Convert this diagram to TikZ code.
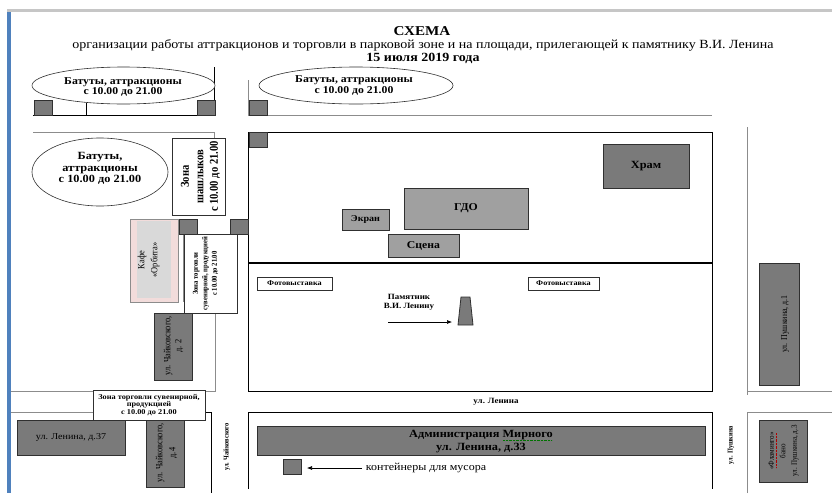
\documentclass[tikz,border=0pt]{standalone}
\usepackage{fontspec}
\setmainfont[FakeStretch=1.12]{Liberation Serif}
\newfontfamily\rotf[FakeStretch=.88]{Liberation Serif}
\usetikzlibrary{arrows.meta}
\definecolor{dk}{HTML}{7A7A7A}
\definecolor{md}{HTML}{A0A0A0}
\definecolor{wall}{HTML}{8C8C8C}
\definecolor{edge}{HTML}{303030}
\definecolor{pinkf}{HTML}{F2DCDB}
\definecolor{inner}{HTML}{D9D9D9}
\definecolor{stripe}{HTML}{4F81BD}
\newcommand{\fs}[2]{\fontsize{#1}{#2}\selectfont}
\tikzset{
 x=1pt,y=-1pt,
 box/.style={draw=edge,line width=.8pt,fill=white,inner sep=0pt,align=center},
 bin/.style={box,fill=dk},
 house/.style={box,fill=dk},
 hall/.style={box,fill=md},
 txt/.style={inner sep=0pt,align=center},
 rtxt/.style={txt,rotate=90},
 road/.style={line width=.8pt,draw=black},
 groad/.style={line width=1pt,draw=wall},
 arr/.style={line width=.6pt,-{Latex[length=5pt,width=4pt]}},
}
% \bx[style]{name}{x1}{y1}{x2}{y2}{text}
\newcommand{\bx}[7][box]{\node[#1,minimum width={#5-#3},minimum height={#6-#4}] (#2) at ({(#3+#5)/2},{(#4+#6)/2}) {#7};}
\newcommand{\ov}[4]{\draw[draw=edge,line width=.6pt,fill=white] ({(#1+#3)/2},{(#2+#4)/2}) ellipse [x radius={(#3-#1)/2},y radius={(#4-#2)/2}];}
\begin{document}
\begin{tikzpicture}
\useasboundingbox (0,0) rectangle (832,493);
\fill[white] (0,0) rectangle (832,493);
% page edge
\fill[gray!45] (7,9) rectangle (832,12);
\fill[stripe] (7,12) rectangle (11,493);
% title
\node[txt,font=\fs{13.5}{15}\bfseries] (t1) at (422,31) {СХЕМА};
\node[txt,font=\fs{12.5}{14}] (t2) at (423,45) {организации работы аттракционов и торговли в парковой зоне и на площади, прилегающей к памятнику В.И. Ленина};
\node[txt,font=\fs{12.5}{14}\bfseries] (t3) at (423,58) {15 июля 2019 года};
% roads
\draw[road] (214,67) -- (214,115) -- (33,115);
\draw[road,line width=1pt] (86,103) -- (86,115);
\draw[road,draw=wall] (248,80) -- (248,115) -- (712,115);
\draw[groad] (33,132) -- (214,132) -- (214,138);
\draw[road] (248,132) -- (712,132) -- (712,391) -- (248,391) -- cycle;
\draw[road,line width=1.3pt] (248,263) -- (712,263);
\draw[groad] (183,234) -- (183,302);
\draw[groad] (215,313) -- (215,391) -- (11,391);
\draw[groad] (11,412) -- (93,412);
\draw[road] (205,412) -- (211,412) -- (211,493);
\draw[road] (248,489) -- (248,412) -- (712,412) -- (712,489);
\draw[groad] (747,127) -- (747,395);
\draw[groad] (747,391) -- (832,391);
\draw[groad] (747,493) -- (747,412) -- (832,412);
% ellipses
\ov{32}{67}{215}{104}
\node[txt,font=\fs{10.5}{10.5}\bfseries] (e1) at (123,87) {Батуты, аттракционы\\с 10.00 до 21.00};
\ov{259}{67}{453}{104}
\node[txt,font=\fs{10.5}{10.5}\bfseries] (e2) at (354,85.5) {Батуты, аттракционы\\с 10.00 до 21.00};
\ov{32}{138}{168}{206}
\node[txt,font=\fs{11}{11.5}\bfseries] (e3) at (100,168.5) {Батуты,\\аттракционы\\с 10.00 до 21.00};
% bins
\bx[bin]{b1}{34}{100}{52}{115}{}
\bx[bin]{b2}{197}{100}{215}{115}{}
\bx[bin]{b3}{249}{100}{267}{115}{}
\bx[bin]{b4}{249}{132}{267}{147}{}
\bx[bin]{b5}{179}{219}{197}{234}{}
\bx[bin]{b6}{230}{219}{248}{234}{}
\bx[bin]{b7}{283}{459}{301}{474}{}
% left zone boxes
\bx{z1}{172}{138}{225}{215}{}
\node[rtxt,font=\rotf\fs{12}{14.5}\bfseries] (z1t) at (200.5,176.5) {Зона\\шашлыков\\с 10.00 до 21.00};
\node[draw=wall,line width=1pt,fill=pinkf,minimum width=48pt,minimum height=83pt,inner sep=0pt] (cafe) at (154,260.5) {};
\node[fill=inner,minimum width=34pt,minimum height=77pt,inner sep=0pt] (cafei) at (154,259.5) {};
\node[rtxt,font=\rotf\fs{9.5}{13}] (cafet) at (148.5,260) {Кафе\\«Орбита»};
\bx{z2}{184}{234}{237}{313}{}
\node[rtxt,font=\rotf\fs{7.5}{9.5}\bfseries] (z2t) at (205.5,273.5) {Зона торговли\\сувенирной, продукцией\\с 10.00 до 21.00};
\bx[house]{h1}{154}{313}{192}{380}{}
\node[rtxt,font=\rotf\fs{9.5}{11}] (h1t) at (173.5,346) {ул. Чайковского,\\д. 2};
\bx[box,font=\fs{7.4}{7.4}\bfseries]{z3}{93}{390}{205}{420}{Зона торговли сувенирной,\\продукцией\\с 10.00 до 21.00}
\bx[house,font=\fs{9}{11}]{h2}{17}{420}{125}{455}{ул. Ленина, д.37}
\bx[house]{h3}{146}{420}{184}{487}{}
\node[rtxt,font=\rotf\fs{9.5}{13}] (h3t) at (166.5,453) {ул. Чайковского,\\д.4};
% square
\bx[house,font=\fs{11}{13}\bfseries]{hram}{603}{144}{689}{188}{Храм}
\bx[hall,font=\fs{10.5}{13}\bfseries]{gdo}{404}{188}{528}{229}{ГДО}
\bx[hall,font=\fs{9}{11}\bfseries]{ekran}{342}{209}{389}{230}{Экран}
\bx[hall,font=\fs{10.5}{13}\bfseries]{scena}{388}{234}{459}{257}{Сцена}
\bx[box,font=\fs{7.3}{8}\bfseries]{f1}{257}{277}{332}{290}{Фотовыставка}
\bx[box,font=\fs{7.3}{8}\bfseries]{f2}{528}{277}{599}{290}{Фотовыставка}
\node[txt,font=\fs{8}{8.6}\bfseries] (pam) at (409,302) {Памятник\\В.И. Ленину};
\draw[draw=edge,line width=.8pt,fill=dk] (461,297) -- (470,297) -- (473,325) -- (458,325) -- cycle;
\coordinate (m) at (452,322);
\coordinate (ms) at (388,322);
\draw[arr] (ms) -- (m);
% street labels
\node[txt,font=\fs{8}{9}\bfseries] (s1) at (496,402) {ул. Ленина};
\node[rtxt,font=\rotf\fs{7.3}{9}\bfseries] (s2) at (227,447) {ул. Чайковского};
\node[rtxt,font=\rotf\fs{7.3}{9}\bfseries] (s3) at (731,445) {ул. Пушкина};
% bottom
\bx[house]{adm}{257}{426}{705}{455}{}
\node[txt,font=\fs{11}{12.3}\bfseries] (admt) at (481,441.5) {Администрация Мирного\\ул. Ленина, д.33};
\draw[line width=.4pt,draw=green!45!black,densely dotted] (503,440) -- (552,440);
\node[txt,font=\fs{10.7}{12}] (cont) at (426,468) {контейнеры для мусора};
\coordinate (ct) at (307,468);
\coordinate (cs) at (362,468);
\draw[arr] (cs) -- (ct);
% right
\bx[house]{p1}{759}{263}{799}{385}{}
\node[rtxt,font=\rotf\fs{9}{11}] (p1t) at (785,324) {ул. Пушкина, д.1};
\bx[house]{p3}{759}{420}{807}{482}{}
\node[rtxt,font=\rotf\fs{8}{11.5}] (p3t) at (783.5,451) {«Фламинго»\\бано\\ул. Пушкина, д.3};
\draw[line width=.4pt,draw=red!70!black,densely dotted] (776,433) -- (776,468);
\end{tikzpicture}
\end{document}
